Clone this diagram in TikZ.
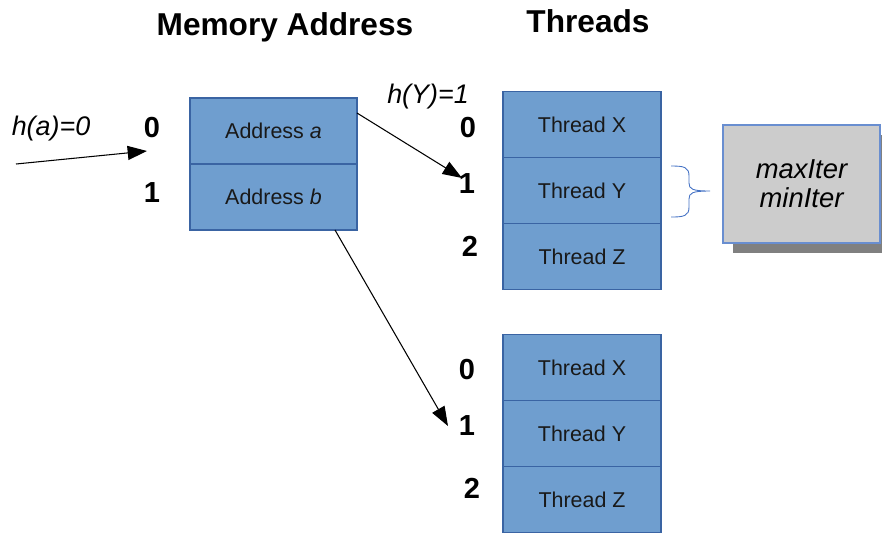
\documentclass[tikz,border=0pt]{standalone}
\usepackage{fontspec}
\setmainfont{Liberation Sans}
\usetikzlibrary{arrows.meta,positioning,shadows}
\definecolor{CellBlue}{RGB}{111,158,207}
\definecolor{CellEdge}{RGB}{58,100,163}
\definecolor{InfoGray}{RGB}{204,204,204}
\definecolor{ShadowGray}{RGB}{128,128,128}
\definecolor{BraceBlue}{RGB}{68,114,196}
\tikzset{
  cell/.style={draw=CellEdge, line width=0.8pt, fill=CellBlue, text=black!90, inner sep=0pt, outer sep=0pt,
    font=\fontsize{12.2}{14}\selectfont, minimum height=1.32cm},
  addrcell/.style={cell, minimum width=3.34cm},
  thrcell/.style={cell, minimum width=3.16cm},
  idx/.style={font=\fontsize{16.5}{18}\selectfont\bfseries, inner sep=0pt},
  hashlbl/.style={font=\fontsize{15.3}{18}\selectfont\itshape, anchor=base, inner sep=0pt},
  headline/.style={font=\fontsize{18}{20}\selectfont\bfseries, anchor=base, inner sep=0pt},
  ptrarr/.style={-{Triangle[length=11pt, width=8pt]}, line width=0.6pt},
  infobox/.style={draw=BraceBlue!80, line width=0.7pt, fill=InfoGray, align=center,
    minimum width=3.14cm, minimum height=2.36cm, font=\fontsize{15.6}{16.5}\selectfont\itshape,
    drop shadow={shadow xshift=0.2cm, shadow yshift=-0.2cm, fill=ShadowGray, opacity=1}},
}
\begin{document}
\begin{tikzpicture}[x=0.02cm, y=-0.02cm]
  \useasboundingbox (0,0) rectangle (882,532);
  % headings
  \node[headline] (hmem) at (285,35) {Memory Address};
  \node[headline] (hthr) at (588,32) {Threads};
  % memory addresses
  \node[addrcell] (adra) at (273.5,131) {Address \textit{a}};
  \node[addrcell, below=0pt of adra] (adrb) {Address \textit{b}};
  \node[idx] (a0) at (152,128) {0};
  \node[idx] (a1) at (152,193) {1};
  \node[hashlbl] (ha) at (51,135) {h(a)=0};
  % first thread table
  \node[thrcell] (t1x) at (582,124.5) {Thread X};
  \node[thrcell, below=0pt of t1x] (t1y) {Thread Y};
  \node[thrcell, below=0pt of t1y] (t1z) {Thread Z};
  \node[idx] (t1i0) at (468,128) {0};
  \node[idx] (t1i1) at (467,184) {1};
  \node[idx] (t1i2) at (470,246) {2};
  \node[hashlbl] (hy) at (428,103) {h(Y)=1};
  % second thread table
  \node[thrcell] (t2x) at (582,367.5) {Thread X};
  \node[thrcell, below=0pt of t2x] (t2y) {Thread Y};
  \node[thrcell, below=0pt of t2y] (t2z) {Thread Z};
  \node[idx] (t2i0) at (467,370) {0};
  \node[idx] (t2i1) at (467,426) {1};
  \node[idx] (t2i2) at (472,488) {2};
  % per-thread counters
  \node[infobox] (iter) at (801.5,184) {maxIter\\minIter};
  \draw[BraceBlue, line width=0.5pt] (671,166) .. controls (684,166) and (689,167) .. (689,176) -- (689,183)
    .. controls (689,189) and (692,191) .. (710,191)
    .. controls (692,191) and (689,193) .. (689,199) -- (689,207)
    .. controls (689,216) and (684,217) .. (671,217);
  % pointers
  \coordinate (hin) at (16,164);
  \coordinate (hinend) at (147,151);
  \coordinate (yend) at (462,178);
  \coordinate (bend) at (448,426);
  \draw[ptrarr] (hin) -- (hinend);
  \draw[ptrarr] ([yshift=0.36cm]adra.east) -- (yend);
  \draw[ptrarr] ([xshift=1.23cm]adrb.south) -- (bend);
\end{tikzpicture}
\end{document}
